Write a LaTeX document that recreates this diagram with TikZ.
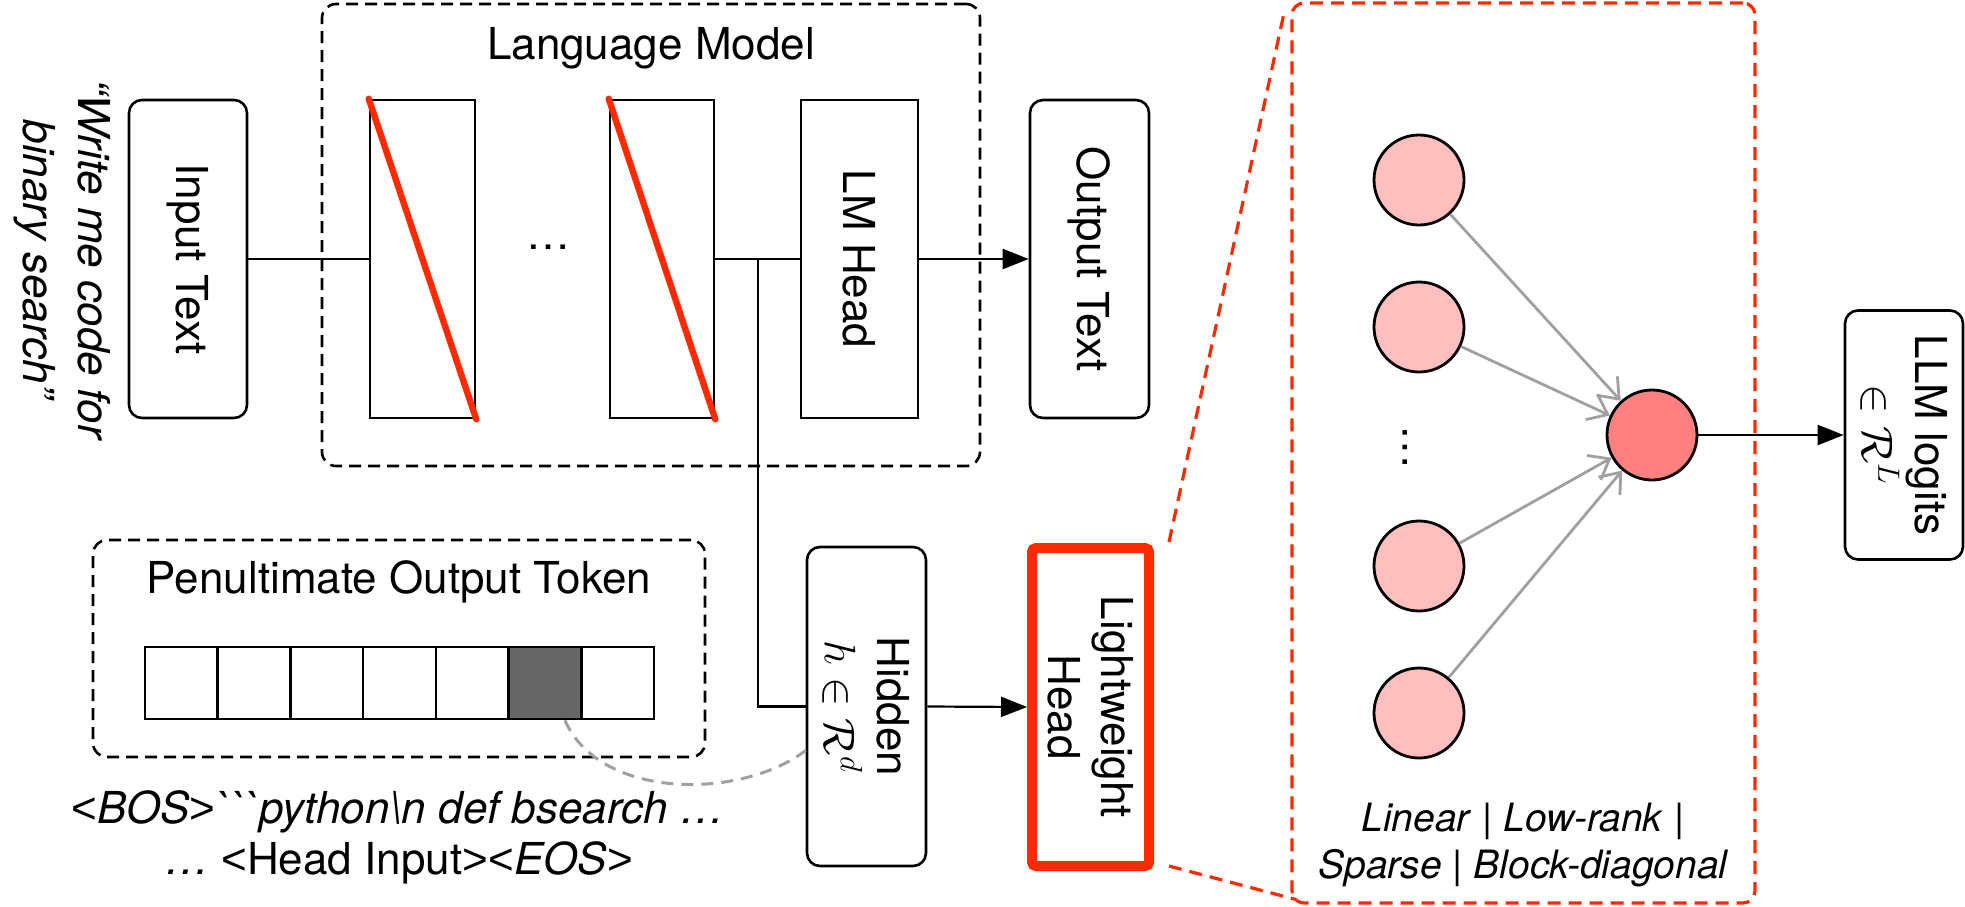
\RequirePackage{fix-cm}
\documentclass[tikz,border=0pt]{standalone}
\usepackage{fontspec}
\setmainfont{TeX Gyre Heros}
\newfontfamily\arialf{Liberation Sans}
\newcommand{\lt}{{\arialf\upshape<}}
\newcommand{\gt}{{\arialf\upshape>}}
\usetikzlibrary{arrows.meta,calc}
\definecolor{hired}{HTML}{FF2A00}
\definecolor{pinkn}{HTML}{FFBFBF}
\definecolor{salmon}{HTML}{FF8080}
\definecolor{cellgray}{HTML}{666666}
\definecolor{linkgray}{HTML}{A0A0A0}
\begin{document}
\begin{tikzpicture}[x=0.5pt,y=-0.5pt,
  every node/.style={inner sep=0pt},
  lbl/.style={font=\fontsize{22}{26.5}\selectfont, align=center},
  rbox/.style={draw, line width=1.3pt, rounded corners=6.5pt},
  sbox/.style={draw, line width=1.3pt},
  dbox/.style={draw, line width=1.3pt, dash pattern=on 6pt off 3.5pt, rounded corners=7pt},
  conn/.style={line width=1.1pt},
  arr/.style={line width=1.1pt, -{Triangle[length=13pt,width=10pt]}},
  neuron/.style={circle, draw, line width=1.4pt, minimum size=45pt, fill=pinkn},
  garr/.style={draw=linkgray, line width=1.4pt, -{Straight Barb[length=9pt,width=14pt]}},
  rdash/.style={draw=hired, line width=1.6pt, dash pattern=on 6.5pt off 4pt},
]
\useasboundingbox (0,0) rectangle (1965,906);

% Language model container
\node[dbox, minimum width=329pt, minimum height=231pt] (lm) at (651,235) {};
\node[lbl] (lmt) at (651,48) {Language Model};

% Quote
\node[font={\fontsize{22}{27.5}\selectfont\itshape}, align=center, rotate=-90] (q) at (62,259) {“Write me code for\\binary search”};

% Input
\node[rbox, minimum width=59pt, minimum height=159pt] (inp) at (188,259) {};
\node[lbl, rotate=-90] (inpt) at (inp.center) {Input Text};

% Layers
\node[sbox, minimum width=52.5pt, minimum height=159pt] (l1) at (422.5,259) {};
\node[sbox, minimum width=52pt, minimum height=159pt] (l2) at (662,259) {};
\draw[hired, line width=3.2pt, line cap=round] (l1.north west) -- (l1.south east);
\draw[hired, line width=3.2pt, line cap=round] (l2.north west) -- (l2.south east);
\node[lbl] (dots) at (548,247) {…};

% LM head
\node[sbox, minimum width=58.5pt, minimum height=159pt] (lmh) at (859.5,259) {};
\node[lbl, rotate=-90] (lmht) at (lmh.center) {LM Head};

% Output text
\node[rbox, minimum width=59.5pt, minimum height=159pt] (out) at (1089.5,259) {};
\node[lbl, rotate=-90] (outt) at (out.center) {Output Text};

% connectors top row
\draw[conn] (inp.east) -- (l1.west);
\draw[conn] (l2.east) -- (lmh.west);
\draw[arr] (lmh.east) -- (out.west);
\coordinate (br) at (758,259);

% Penultimate
\node[dbox, minimum width=306pt, minimum height=108.5pt] (pen) at (399,648.5) {};
\node[lbl] (pent) at (399,582) {Penultimate Output Token};
\foreach \i/\f in {0/white,1/white,2/white,3/white,4/white,5/cellgray,6/white}
  \node[sbox, fill=\f, minimum width=36.36pt, minimum height=36pt] (c\i) at ({181.36+72.71*\i},683) {};
\node[lbl] (seq1) at (398,812) {\itshape \lt BOS\gt\textasciigrave\textasciigrave\textasciigrave python\textbackslash n def bsearch …};
\node[lbl] (seq2) at (399,863) {\textit{…} \lt Head Input\gt\lt\textit{EOS}\gt};

% Hidden
\node[rbox, minimum width=59.5pt, minimum height=159.5pt] (hid) at (866.5,706.5) {};
\node[lbl, rotate=-90] (hidt) at (hid.center) {Hidden\\$h\in\mathcal{R}^d$};
\draw[conn] (br) |- (hid.west);

% Lightweight head
\node[draw=hired, line width=5pt, rounded corners=2pt, minimum width=58.5pt, minimum height=159pt] (lh) at (1090.5,707) {};
\node[lbl, rotate=-90] (lht) at (lh.center) {Lightweight\\Head};
\draw[arr] (hid.east) -- (lh.west);

% dashed gray curve
\draw[linkgray, line width=1.5pt, dash pattern=on 6pt off 4pt] ($(c5.south)+(20,0)$) .. controls (600,800) and (740,800) .. ($(hid.west)+(0,44)$);

% Zoom box
\node[rdash, rounded corners=6pt, minimum width=231.5pt, minimum height=450pt] (hz) at (1523.5,453) {};
\draw[rdash] ($(lh.north east)+(15,-1)$) -- ($(hz.north west)+(-6,10)$);
\draw[rdash] ($(lh.south east)+(15,-5)$) -- ($(hz.south west)+(6,-5)$);

% Neurons
\node[neuron] (n1) at (1419,180) {};
\node[neuron] (n2) at (1419,327) {};
\node[neuron] (n3) at (1419,566) {};
\node[neuron] (n4) at (1419,713) {};
\node[neuron, fill=salmon] (o) at (1652,435) {};
\node[lbl, rotate=90] (vd) at (1405,447) {…};
\foreach \n in {n1,n2,n3,n4} \draw[garr] (\n) -- (o);

% LLM logits
\node[rbox, minimum width=59pt, minimum height=124.5pt] (llm) at (1904,435) {};
\node[lbl, rotate=-90] (llmt) at (llm.center) {LLM logits\\$\in\mathcal{R}^L$};
\draw[arr] (o) -- (llm);

\node[font={\fontsize{19.5}{23.5}\selectfont\itshape}, align=center] (cap) at (1523,845) {Linear \textup{|} Low-rank \textup{|}\\Sparse \textup{|} Block-diagonal};
\end{tikzpicture}
\end{document}
